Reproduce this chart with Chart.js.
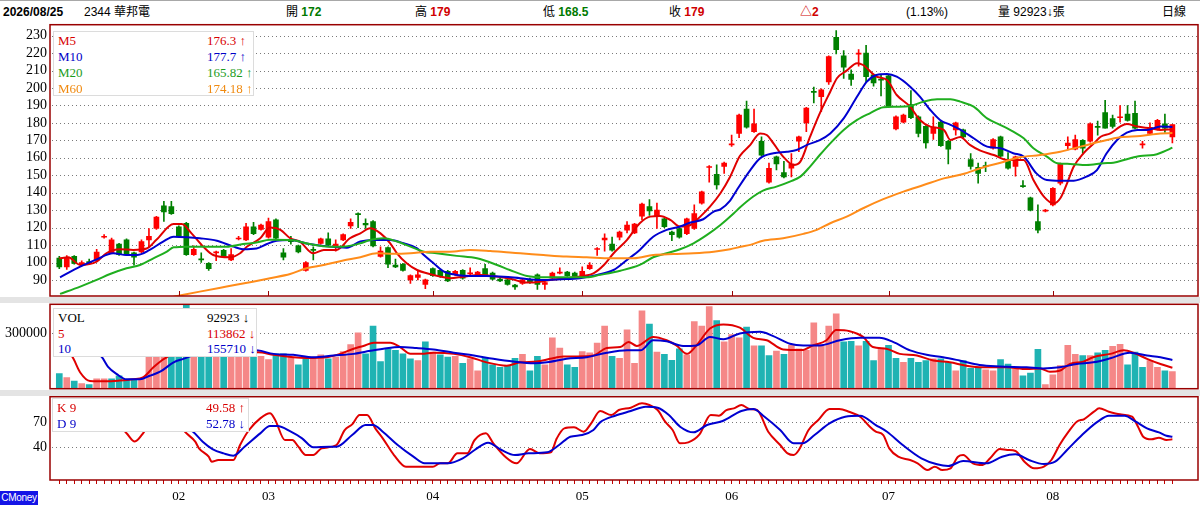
<!DOCTYPE html>
<html lang="zh-Hant">
<head>
<meta charset="utf-8">
<title>2344 華邦電 日線</title>
<script src="https://cdn.jsdelivr.net/npm/chart.js@4.4.1/dist/chart.umd.min.js"></script>
<style>
  html, body { margin: 0; padding: 0; background: #fff; }
  body { width: 1200px; height: 515px; position: relative; overflow: hidden; }
  #topline { position: absolute; left: 0; top: 0; width: 1200px; height: 1px; background: #a8a8a8; }
  .hd { position: absolute; top: 5px; font: 12px "Liberation Sans", "Noto Sans CJK TC", sans-serif; line-height: 15px; white-space: nowrap; color: #000; }
  .b { font-weight: bold; }
  .up { color: #d00000; }
  .dn { color: #007a00; }
  .band { position: absolute; left: 0; width: 1200px; background: #e4e4e4; }
  canvas { position: absolute; left: 0; }
  .lg { position: absolute; background: #fff; border: 1px solid #dcdcdc; box-sizing: border-box; font: 13px "Liberation Serif", serif; }
  .lg div { position: relative; height: 16px; line-height: 16px; white-space: nowrap; }
  .lg .n { position: absolute; left: 4px; }
  .lg .v { position: absolute; left: 153px; }
  #cm { position: absolute; left: 0; top: 491px; width: 38px; height: 14px; background: #1414e6; color: #fff; font: 10px "Liberation Sans Narrow", "Liberation Sans", sans-serif; letter-spacing: -0.3px; line-height: 14px; text-align: center; overflow: hidden; }
</style>
</head>
<body>
<div id="topline"></div>
<span class="hd b" style="left:3px">2026/08/25</span>
<span class="hd" style="left:84px">2344 華邦電</span>
<span class="hd" style="left:286px">開 <b class="dn">172</b></span>
<span class="hd" style="left:415px">高 <b class="up">179</b></span>
<span class="hd" style="left:543px">低 <b class="dn">168.5</b></span>
<span class="hd" style="left:669px">收 <b class="up">179</b></span>
<span class="hd b up" style="left:800px">△2</span>
<span class="hd" style="left:906px">(1.13%)</span>
<span class="hd" style="left:998px">量 92923↓張</span>
<span class="hd" style="left:1162px">日線</span>

<div class="band" style="top:297px;height:6px"></div>
<div class="band" style="top:390px;height:6px"></div>

<canvas id="priceChart" width="1200" height="277" style="top:20px"></canvas>
<canvas id="volChart" width="1200" height="87" style="top:303px"></canvas>
<canvas id="kdChart" width="1200" height="119" style="top:396px"></canvas>

<div class="lg" style="left:53px;top:31px;width:201px;height:65px;padding-top:1px">
  <div style="color:#d80000"><span class="n">M5</span><span class="v">176.3 ↑</span></div>
  <div style="color:#0000c8"><span class="n">M10</span><span class="v">177.7 ↑</span></div>
  <div style="color:#1c9c1c"><span class="n">M20</span><span class="v">165.82 ↑</span></div>
  <div style="color:#f08a10"><span class="n">M60</span><span class="v">174.18 ↑</span></div>
</div>
<div class="lg" style="left:53px;top:308px;width:204px;height:49px;padding-top:1px">
  <div style="color:#000;height:15.5px"><span class="n">VOL</span><span class="v">92923 ↓</span></div>
  <div style="color:#d80000;height:15.5px"><span class="n">5</span><span class="v">113862 ↓</span></div>
  <div style="color:#0000c8;height:15.5px"><span class="n">10</span><span class="v">155710 ↓</span></div>
</div>
<div class="lg" style="left:52px;top:398px;width:197px;height:34px;padding-top:1px">
  <div style="color:#d80000"><span class="n">K 9</span><span class="v">49.58 ↑</span></div>
  <div style="color:#0000c8"><span class="n">D 9</span><span class="v">52.78 ↓</span></div>
</div>
<div id="cm">CMoney</div>

<script>
// daily candles, Jan 2 .. Aug 25 (index 0..149)
const opens = [102.5,97.5,103.5,99,100.5,101.5,114.5,105.5,110.5,113, 105.5,106,113,119.5,132.5,132,120.5,122.5,104.5,102,
  99.5,105.5,107,101.5,113.5,113,120.5,119,114.5,124.5, 105.5,113,109.5,95.5,107.5,111,113.5,109.5,113,121,
  128,122.5,123.5,103.5,108.5,98.5,99,90,91.5,87.5, 96.5,95.5,95,93,95.5,93.5,93,96.5,94,90.5,
  90,87,88,90,93,87.5,91,94,94.5,94, 92,96.5,107.5,113,110.5,114.5,118.5,117,126.5,132,
  126.5,125,117.5,119.5,116.5,119.5,134,154.5,150.5,155, 167.5,174,188,175,169.5,146,160.5,151.5,154,169.5,
  180,198,195,203.5,229,218.5,208,219.5,220,207.5, 205,207,176.5,180.5,190.5,183.5,178,174,180.5,169.5,
  176,176,159,154.5,155.5,165.5,172,159,155,144, 137,123.5,129.5,133,145.5,167,165,170,169.5,178,
  186,182.5,183,185,185.5,167.5,174,176.5,179.5,172];
const highs = [103.5,104,104,101,102,107.5,116,114,111,113.5, 106,113,119.5,126.5,135,135,121,123,109.5,105.5,
  100,106.5,107.5,108,115,122.5,123,122,125.5,125, 108,115,110,100.5,109,114,117,113,116.5,125,
  128.5,125,124,109,109,102,99.5,93,95,90.5, 97,96,95.5,95.5,96,97,95,99,94.5,91,
  90.5,87.5,90.5,91,93.5,89,94.5,97,95,94.5, 97.5,100,108.5,116.5,114.5,118,123.5,122.5,134,136,
  134,125.5,118,120,125.5,133,141,155.5,156,157.5, 173,185,192.5,188,172,157,161,158,162.5,172.5,
  189,200.5,199.5,218.5,233,221.5,210.5,222,224.5,208, 207.5,207.5,184,185,198.5,184,178.5,183.5,181,170,
  180.5,176.5,162.5,157,157.5,171,172.5,163,161,147, 137.5,133,130.5,143,157,172,173,170.5,180,181,
  193,184.5,190,190,192.5,169.5,180,182,185,179];
const lows = [96.5,96,99,98.5,99,101,114,105,104,104, 98.5,105.5,109,119,123.5,127.5,114.5,104,104,100,
  95.5,101,103,101,113,112.5,116,118.5,114,113.5, 101.5,110.5,105.5,95,101.5,110.5,109.5,106.5,112.5,119.5,
  120,119.5,109,103,97,97,95,88,90,85, 92,91.5,89,92.5,90.5,92.5,92.5,92.5,90,89,
  87,84.5,87.5,88,84.5,84.5,90.5,93.5,92,91.5, 91.5,96,104,106.5,106.5,113,117,116.5,124.5,127,
  119.5,120,112.5,114,116,119,133.5,146,142,151, 166.5,171.5,177,174.5,161,145.5,153,148.5,149,163.5,
  175,191.5,186.5,202,219.5,205.5,201.5,212.5,203.5,201, 195.5,189,176,180,182.5,172,165.5,170.5,166.5,156.5,
  173,171.5,153.5,145.5,152,165,160.5,153.5,149.5,143, 129.5,117,129,132.5,144.5,164.5,164.5,162.5,169,173,
  177,177,180.5,181,176.5,165.5,173.5,176,174.5,168.5];
const closes = [97.5,103,99.5,100,99.5,106,115,113,104.5,104.3, 103,112,115,126,129,128,115,104.5,107.5,101.5,
  96.5,106,103.5,104.5,114,120.5,116.5,121.5,123.5,114, 103,112,106,100,107,113.5,110,110.5,116,123,
  127.5,121.5,109.5,106.5,99,97.5,95.5,92.5,93,90, 92.5,92,89.5,95,91,94,94.5,93,90.5,89.5,
  87.5,86,90,89,87.5,88.5,94,94.5,92.5,92, 95,98.5,108,114,107,117.5,121.5,122,133.5,129.5,
  130,120.5,116,114.5,125,128,140.5,155,144.5,157, 168,184.5,177.5,179.5,161.5,154,156.5,149,156.5,172,
  188.5,197.5,199,218,222,212,205,220,206.5,203, 204.5,189.5,183.5,184.5,183,174,168.5,177.5,167,165,
  180,172,155,151,155,170.5,161,154,160.5,143.5, 130,118.5,130,142.5,156.5,168.5,170.5,165.5,179.5,177.5,
  177,178,183.5,181.5,177,168,177.5,181.5,177,179];
const prevClose = 99.5;
const volumes = [82700,60700,42000,27600,22000,53000,53000,53000,70000,51000,
  51000,51000,172000,300000,236000,280000,260000,470000,200000,190000,
  170000,170000,175000,180000,210000,220000,180000,175000,158000,189000,
  189000,171000,129000,162000,171000,184000,162000,171000,202000,239000,
  303000,189000,340000,147000,217000,208000,189000,162000,153000,254000,
  199000,184000,171000,175000,138000,162000,97000,165000,130000,116000,
  125000,165000,186000,97000,175000,129000,276000,221000,130000,116000,
  202000,195000,248000,340000,175000,165000,320000,138000,423000,351000,
  199000,186000,154000,217000,184000,364000,340000,445000,369000,254000,
  294000,276000,335000,232000,232000,180000,204000,186000,235000,217000,
  208000,357000,239000,340000,406000,254000,257000,232000,257000,153000,
  221000,235000,165000,143000,165000,143000,153000,162000,162000,143000,
  97000,153000,110000,110000,103000,97000,158000,134000,110000,70000,
  85000,213000,22000,75000,125000,235000,186000,180000,180000,195000,
  208000,230000,241000,130000,199000,116000,153000,116000,97000,92923];

// moving averages and KD as [day index, value]
const ma5 = [[0,102.4],[1.2,103],[2.8,98.6],[5,100.5],[6.3,105.3],[8.1,107.6],[9.9,107.2],[11.7,108],[13,113],[15.3,122],
  [16.4,122],[17.7,116.7],[19.3,109],[20.6,104.3],[22.8,103],[24.2,105.3],[25.1,109],[26.9,113.9],[28.2,120],[29.6,118.7],
  [30.9,113.9],[32.2,112],[34,105.3],[35.4,107.2],[37.1,107.2],[38.9,113.9],[40.3,116.7],[41.6,119.6],[43,116.7],[44.3,111],
  [45.2,105.3],[46.5,99.6],[47.9,95.7],[49.2,93.8],[51,91.9],[52.3,91],[54.1,91.9],[56.3,92.9],[58.6,91.9],[60.5,90.5],
  [62.6,88.5],[64.4,89],[65.7,90],[67.9,91],[70.2,92.3],[71.5,93.8],[72.9,98.6],[74.2,105.3],[76,113],[77.7,122.5],
  [79.1,126.3],[80.4,126.7],[81.8,124.4],[83.1,120.6],[84.5,121.5],[85.8,126.3],[87.1,132],[88.5,139.7],[89.8,149.2],[91.1,161],
  [92.5,167.4],[93.8,174],[94.7,173.1],[95.6,168.3],[96.9,160.7],[98.3,155.9],[99.2,157.8],[100.5,172.1],[101.8,185.5],[103.2,197.9],
  [104.1,205.6],[105.4,210],[106.8,214.2],[107.6,213.2],[109.4,206.5],[110.8,204.6],[112.1,196],[113.9,189.3],[115.2,181.7],[116.6,177.9],
  [118.4,176],[119.3,170.2],[120.6,172],[121.9,167.4],[123.3,164.1],[125.1,161.6],[126.9,158.8],[128.2,158.8],[129.1,158.8],[130.4,147.3],
  [131.8,137.8],[133.1,133.9],[134,136.8],[134.9,145.4],[135.8,155],[137.1,162.6],[138.5,168.3],[139.4,172.1],[140.7,174],[142,177.9],
  [142.9,179.4],[144.3,177.9],[146.1,176.9],[147.4,176],[149,176.3]];
const ma10 = [[0.1,91.5],[2.8,97.6],[5,101.8],[7.2,105.3],[9,104.3],[10.4,104.3],[12.1,107.2],[13.9,112],[15.3,114.8],[17.1,114.5],
  [18.8,113.9],[21.1,112.5],[23.3,109.1],[24.6,107.6],[26.4,108],[27.8,110.6],[29.1,112.5],[30.9,112.9],[33.5,110.6],[36.2,109.1],
  [38.5,108.5],[40.3,112],[42.1,112.9],[44.3,112.9],[46.1,111],[47.9,108.1],[48.8,104.3],[50.1,99.6],[51.5,94.8],[53.2,92.9],
  [55,92.3],[57.2,92.3],[59.5,91.9],[61.7,91],[64.4,90],[67.1,90.4],[69.7,91],[72,92.9],[74.2,95.7],[76,101.5],
  [77.7,107.2],[79.5,114.8],[81.3,118.7],[83.1,120.6],[84.5,122.9],[86.2,124.8],[87.6,129.2],[88.5,130.5],[89.8,135.5],[90.7,141.6],
  [92.5,153],[93.8,159.7],[95.6,162.6],[97.4,163.5],[98.7,164.5],[100.1,167.4],[101.8,170.2],[103.2,174],[105,182.6],[106.8,195.1],
  [108.1,203.7],[109.4,207.5],[110.8,208.1],[112.1,206.5],[113.9,200.8],[115.2,195.1],[116.6,187.4],[117.9,181.7],[119.3,178.9],[120.6,176.2],
  [122.4,171.2],[124.2,166.4],[126,165.5],[127.7,162.6],[129.1,160.7],[130.8,151.1],[132.2,147.3],[134,146.9],[135.8,146.9],[137.5,149.2],
  [138.9,153],[140.2,162.6],[141.6,170.2],[142.9,174.4],[144.3,176],[145.6,176],[147.4,177.9],[149,177.7]];
const ma20 = [[0.1,82],[2.8,86.2],[5,90],[6.8,93.4],[9,96.7],[10.8,98.6],[12.6,102.4],[14.4,106.2],[15.3,108.7],[17.1,109.1],
  [19.7,109.1],[22.4,109.1],[24.6,110.6],[26.4,111.4],[28.2,113],[30.9,112.9],[33.5,110.6],[36.2,109.1],[38,109.1],[40.3,111],
  [41.6,112.9],[43.4,113.9],[45.2,112],[47,109.1],[48.8,106.2],[50.5,105.3],[53.2,103.8],[55.9,102.4],[58.6,98.6],[60.3,95.7],
  [62.6,92.3],[64.8,91.5],[67.9,91.5],[70.6,91.5],[72.4,92.9],[75.1,95.3],[77.7,98.6],[79.5,103],[81.3,105.3],[83.1,107.6],
  [84.9,111],[86.7,115.8],[88.5,121.5],[90.3,128.2],[91.1,131.5],[92.9,137.8],[94.2,141.2],[96,143.5],[97.8,146.4],[99.2,149.2],
  [100.5,155],[101.8,161.6],[103.2,168.3],[105,176],[106.8,181.7],[108.5,185.5],[110.3,189],[112.1,189.3],[113.9,189.7],[115.7,192.2],
  [117.5,193.5],[119.3,193.5],[120.6,192.2],[122.4,189.3],[124.2,182.6],[126,178.8],[127.7,175],[129.1,171.2],[130.4,165.5],[132.2,160.7],
  [133.6,156.9],[135.3,156.5],[137.5,155.9],[139.8,156.9],[141.1,157.2],[142.9,159.2],[144.7,161.1],[146.5,161.6],[147.8,163.5],[149,165.82]];
const ma60 = [[15.3,80.4],[18.8,83.3],[22.4,86.2],[25.9,89],[28.2,91],[30.9,93.4],[33.1,96.7],[35.4,98.6],[38,101.1],[40.3,103],
  [42.5,105.3],[44.7,105],[47,105.3],[49.6,106.2],[52.3,106.2],[55,107.2],[57.7,106.6],[60.3,105.7],[61.7,105.3],[64.8,104.3],
  [67.9,103.4],[70.6,103],[73.8,102.4],[76.9,102.4],[79.5,104.3],[82.2,104.9],[84.9,105.3],[87.6,106.2],[89.8,107.6],[91.2,109],
  [92.5,110.1],[94.2,112.5],[96.9,113.9],[99.6,116.4],[101.4,118.7],[103.2,122.5],[105.4,126.3],[107.6,131.1],[110.3,136.3],[113,140.6],
  [115.7,144.4],[118.4,148.2],[121,150.7],[123.3,154],[126,157.2],[128.6,160.3],[131.3,161.6],[134,163.5],[136.7,166.4],[139.4,169.3],
  [142,171.8],[144.7,172.5],[147.4,174],[149,174.18]];
const vma5 = [[0,260000],[1,220000],[1.9,162000],[2.8,88000],[4.1,42000],[6.3,40000],[8.1,44000],[9.9,51000],[11.2,61000],[12.6,116000],
  [13.7,153000],[14.4,171000],[16,220000],[18,260000],[20,240000],[22,190000],[24,185000],[26.6,198000],[28.7,184000],[31.3,171000],
  [33.1,167000],[35.8,171000],[37.6,189000],[39.4,217000],[40.7,232000],[42.1,250000],[44.3,250000],[45.6,226000],[47,189000],[48.5,189000],
  [50.1,195000],[52.8,189000],[55,171000],[57.2,143000],[59.9,125000],[61.7,143000],[63.9,147000],[65.7,162000],[67.5,175000],[69.3,175000],
  [71.5,180000],[73.3,221000],[75.1,226000],[76.2,254000],[77.3,232000],[79.5,281000],[81.3,263000],[82.6,235000],[84,189000],[85.3,235000],
  [87.1,327000],[88.9,349000],[91.1,331000],[92.9,276000],[94.7,263000],[96.9,213000],[99.4,210000],[100.9,235000],[102.7,263000],[104,318000],
  [105.8,312000],[107.6,281000],[108.9,226000],[110.7,217000],[112.5,189000],[114.8,180000],[117,153000],[119.2,143000],[121.4,125000],[123.6,116000],
  [126.8,116000],[129.5,107000],[131.3,110000],[132.6,92000],[133.9,97000],[135.3,134000],[137.1,147000],[138.4,171000],[140.7,189000],[142.5,208000],
  [143.8,195000],[145.6,162000],[147.4,134000],[149,113862]];
const vma10 = [[0,300000],[3,240000],[5.7,171000],[6.5,120000],[7.7,79000],[9,51000],[10.8,51000],[12.1,70000],[13.5,92000],[15.3,143000],
  [16.6,162000],[19,195000],[22,210000],[24.5,212000],[26.6,208000],[28.7,189000],[31.3,184000],[34,171000],[36.7,180000],[39.4,189000],
  [41.1,202000],[43.4,217000],[45.6,226000],[47.8,221000],[50.1,213000],[52.8,195000],[55.5,180000],[58.1,162000],[60.8,147000],[63.5,138000],
  [65.3,143000],[67.9,162000],[70.6,171000],[73.3,195000],[76,208000],[77.8,208000],[79.5,263000],[81.3,257000],[83.5,232000],[85.3,235000],
  [87.1,281000],[88.9,268000],[91.1,300000],[93.8,309000],[95.5,287000],[97.8,244000],[99.6,235000],[101.8,235000],[104.5,263000],[107.2,276000],
  [109.8,276000],[111.6,254000],[113.9,208000],[116.1,184000],[118.3,171000],[120.5,153000],[123.2,129000],[125.9,121000],[129.5,116000],[131.7,110000],
  [133.9,116000],[136.2,134000],[138.4,143000],[140.7,165000],[143.3,195000],[145.6,180000],[147.4,171000],[149,155710]];
const kLine = [[0,78],[3,82],[6,75],[8,66],[9,57],[10.1,47],[11.3,58],[12.5,74],[15,74],[16.2,66],[16.8,58.8],
  [18.2,46.8],[18.7,38.8],[20,28.8],[20.4,22.8],[21.3,24.8],[23.3,24.8],[24.2,42.8],[25.4,60.8],[26.9,74.8],[28.2,80.8],
  [28.9,72.8],[30.2,48.8],[31.2,48.8],[32,40.8],[33,30.8],[34,30.8],[35.1,38.8],[37.1,42.8],[38.2,60.8],[39.2,67.6],
  [40.2,78.8],[41.2,78.8],[42.3,62.8],[43.3,50.8],[44.8,30.8],[46.4,16.8],[50,16.8],[51,20.8],[52,20.8],[53.3,32.8],
  [54.6,32.8],[55.6,48.8],[57.1,56.8],[58.1,44.8],[59.7,28.8],[61.2,20.8],[63,38],[64.3,32.8],[65.8,34],[66.6,50.8],
  [67.6,62.8],[68.9,64],[70.2,58.8],[71.2,68.8],[72.4,83.6],[73.9,78.8],[74.9,84.8],[76.5,87.6],[78,92.8],[79,90.8],
  [80.1,84.8],[81.1,70.8],[82.1,60.8],[83.1,44.8],[84.2,46],[85.7,55.6],[87.2,78.8],[88.3,78],[89.3,84.8],[90.3,86.8],
  [91.3,90.8],[92.4,86],[93.4,84.8],[94.9,58.8],[96.5,42.8],[97.5,32.8],[98.3,30.8],[99,36.8],[100.3,60.8],[101.6,72.8],
  [103.1,86],[104.4,86],[105.7,82.8],[107.2,76.8],[108.5,64.8],[109.3,58.8],[110.3,54.8],[111.1,38.8],[112.3,28.8],[113.9,24.8],
  [114.9,20.8],[116.2,12.8],[117.2,16.8],[118.2,12.8],[119.3,14.8],[120.3,28.8],[121,30.8],[122.3,20.8],[123.6,18.8],[124.6,26.8],
  [125.9,38],[126.9,36.8],[128,35.6],[129.2,22.8],[130.5,14.8],[131.8,16.8],[132.8,24.8],[133.9,42.8],[135.1,58.8],[136.2,70.8],
  [137.2,74],[138.5,82.8],[139.2,86.8],[140.5,82.8],[142,79.6],[143.6,76.8],[144.4,64.8],[145.1,52.8],[146.2,49.6],[147.2,51.6],
  [148.2,48.8],[149,49.58]];
const dLine = [[0,72],[4,76],[8,74],[12,72],[15,70],[16.8,64],[17.9,58.8],[19.2,46.8],[20.5,38],[22,32.8],[23.3,30],
  [24.8,40.8],[26.9,56.8],[28.2,65.6],[29.2,65.6],[31,58.8],[32.5,50.8],[34,40],[36.1,40.8],[37.1,40.8],[39.2,54.8],
  [41,66.8],[42,66.8],[43.3,58.8],[45.3,42.8],[47.4,28.8],[48.9,20.8],[52,20.8],[54,26.8],[55.6,36.8],[57.4,45.6],
  [59.2,36.8],[61,30.8],[62.8,32.8],[65.3,34],[66.9,42.8],[68.4,52.8],[70,54.8],[71.5,60.8],[72.4,70],[74.4,78],
  [76.5,83.6],[78.5,88.8],[80.1,87.6],[81.6,78.8],[83.1,64.8],[84.9,58],[86.7,66.8],[88.8,71.6],[91.3,83.6],[92.9,86],
  [94.4,76.8],[96.5,60.8],[98.3,44.8],[99.5,44.8],[101.1,54.8],[103.1,68.8],[105.2,76.8],[107.2,78],[109.3,66.8],[110.8,58.8],
  [112.9,42.8],[115.4,26.8],[117.5,19.6],[119,17.6],[121,23.6],[124.1,20.8],[126.2,28.8],[128,31.6],[129.8,24.8],[131.8,20],
  [133.3,22.8],[134.9,36.8],[136.9,54.8],[139,70.8],[140.5,78],[142.6,78],[144.1,70.8],[145.6,62.8],[147.2,58],[148.2,54],
  [149,52.78]];

const monthStarts = [16, 28, 50, 70, 90, 111, 133];
const monthNames = ['02', '03', '04', '05', '06', '07', '08'];
const priceTicks = [90, 100, 110, 120, 130, 140, 150, 160, 170, 180, 190, 200, 210, 220, 230];
const volTicks = [300000];
const kdTicks = [40, 70];

const RED = '#ff0000', GREEN = '#008000';
const PINK = '#f58787', TEAL = '#1fb3b3';
const FRAME = '#990000';
const X_MIN = -1.245, X_MAX = 152.43;
const days = opens.map((_, i) => i);
const serif = { family: 'Liberation Serif', size: 14 };

// border round each panel, dotted level lines, and the short month marks under the price panel
const framePlugin = {
  id: 'frame',
  beforeDatasetsDraw(chart) {
    const { ctx, chartArea: a, scales } = chart;
    ctx.save();
    ctx.fillStyle = '#7a7a7a';
    scales.y.ticks.forEach(t => {
      const y = Math.round(scales.y.getPixelForValue(t.value));
      for (let x = a.left + 2; x < a.right; x += 4) ctx.fillRect(x, y, 1, 1);
    });
    ctx.restore();
  },
  afterDraw(chart, args, opts) {
    const { ctx, chartArea: a, scales } = chart;
    ctx.save();
    ctx.strokeStyle = FRAME;
    if (opts.marks) {
      ctx.lineWidth = 1;
      monthStarts.forEach(i => {
        const x = Math.round(scales.x.getPixelForValue(i)) + 0.5;
        ctx.beginPath();
        ctx.moveTo(x, a.bottom);
        ctx.lineTo(x, a.bottom - 5);
        ctx.stroke();
      });
    }
    ctx.lineWidth = 1.5;
    ctx.strokeRect(a.left, a.top, a.right - a.left, a.bottom - a.top);
    ctx.restore();
  }
};

function yAxis(min, max, list) {
  return {
    min: min, max: max,
    afterBuildTicks: s => { s.ticks = list.map(v => ({ value: v })); },
    afterFit: s => { s.width = 50; s.paddingTop = 0; s.paddingBottom = 0; },
    grid: { display: false, drawTicks: false },
    border: { display: false },
    ticks: { autoSkip: false, padding: 3, color: '#000', font: serif, callback: v => String(v) }
  };
}
const hiddenX = { type: 'linear', min: X_MIN, max: X_MAX, display: false, offset: false };

function line(points, color) {
  return {
    type: 'line',
    data: points.map(p => ({ x: p[0], y: p[1] })),
    borderColor: color, borderWidth: 2, pointRadius: 0,
    cubicInterpolationMode: 'monotone', order: 0
  };
}

function baseOptions(pad, scales, marks) {
  return {
    responsive: false, animation: false, devicePixelRatio: 1,
    layout: { padding: pad },
    scales: scales,
    plugins: { legend: { display: false }, tooltip: { enabled: false }, frame: { marks: marks } }
  };
}

// price panel
const candleColor = days.map(i => closes[i] >= opens[i] ? RED : GREEN);
const wickData = days.map(i => ({ x: i, y: [lows[i], highs[i]] }));
const bodyData = days.map(i => {
  let lo = Math.min(opens[i], closes[i]);
  let hi = Math.max(opens[i], closes[i]);
  if (hi - lo < 0.6) { const m = (hi + lo) / 2; lo = m - 0.3; hi = m + 0.3; }
  return { x: i, y: [lo, hi] };
});

new Chart(document.getElementById('priceChart'), {
  type: 'bar',
  data: {
    datasets: [
      { data: wickData, backgroundColor: candleColor, barThickness: 1, grouped: false, order: 2 },
      { data: bodyData, backgroundColor: candleColor, barThickness: 5, grouped: false, order: 1 },
      line(ma60, '#ff8c1a'),
      line(ma20, '#1fae1f'),
      line(ma10, '#0000d0'),
      line(ma5, '#e00000')
    ]
  },
  options: baseOptions({ top: 4.7, bottom: 1, left: 0, right: 2 },
    { x: hiddenX, y: yAxis(80.8, 236.3, priceTicks) }, true),
  plugins: [framePlugin]
});

// volume panel
const volColor = days.map(i => closes[i] >= (i ? closes[i - 1] : prevClose) ? PINK : TEAL);
new Chart(document.getElementById('volChart'), {
  type: 'bar',
  data: {
    datasets: [
      { data: days.map(i => ({ x: i, y: volumes[i] })), backgroundColor: volColor, barThickness: 6, grouped: false, order: 1 },
      line(vma10, '#0000d0'),
      line(vma5, '#e00000')
    ]
  },
  options: baseOptions({ top: 1.3, bottom: 1.3, left: 0, right: 2 },
    { x: hiddenX, y: yAxis(0, 458000, volTicks) }, false),
  plugins: [framePlugin]
});

// KD panel with the month axis
new Chart(document.getElementById('kdChart'), {
  type: 'line',
  data: {
    datasets: [line(dLine, '#0000d0'), line(kLine, '#e00000')]
  },
  options: baseOptions({ top: 0.7, bottom: 0, left: 0, right: 2 }, {
    x: {
      type: 'linear', min: X_MIN, max: X_MAX, offset: false,
      afterBuildTicks: s => { s.ticks = days.map(v => ({ value: v })); },
      afterFit: s => { s.height = 35; s.paddingLeft = 0; s.paddingRight = 0; },
      grid: { drawOnChartArea: false, drawTicks: true, tickLength: 4, color: '#c00000' },
      border: { display: false },
      ticks: {
        autoSkip: false, maxRotation: 0, padding: 5, color: '#000',
        font: { family: 'Liberation Serif', size: 13 },
        callback: v => { const k = monthStarts.indexOf(v); return k >= 0 ? monthNames[k] : ''; }
      }
    },
    y: yAxis(0.8, 100.8, kdTicks)
  }, false),
  plugins: [framePlugin]
});
</script>
</body>
</html>
